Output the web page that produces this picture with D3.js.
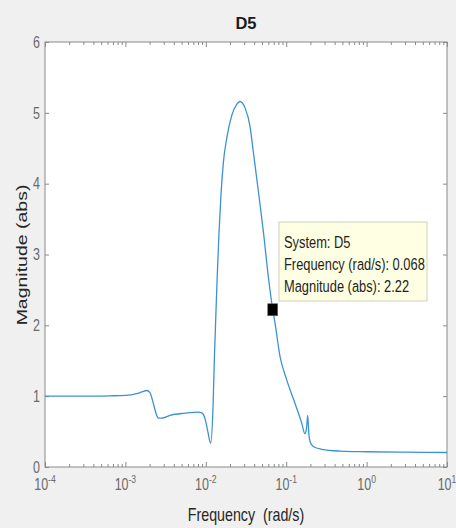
<!DOCTYPE html>
<html>
<head>
<meta charset="utf-8">
<script src="https://cdn.jsdelivr.net/npm/d3@7/dist/d3.min.js"></script>
<style>
  body { margin: 0; background: #f0f0f0; }
  svg { display: block; }
  text { font-family: "Liberation Sans", Arial, Helvetica, sans-serif; }
</style>
</head>
<body>
<svg id="chart" width="456" height="528"></svg>
<script>
// Frequency response of system D5 (magnitude, linear units)
const frequency = [
  1e-4, 2.7e-4, 6.4e-4, 1.0e-3, 1.38e-3, 1.61e-3, 1.84e-3, 2.02e-3, 2.2e-3, 2.4e-3,
  2.56e-3, 2.85e-3, 3.6e-3, 5.5e-3, 8.0e-3, 9.0e-3, 9.8e-3, 0.0106, 0.0115, 0.0123,
  0.0128, 0.01339, 0.0139, 0.01459, 0.01546, 0.01651, 0.0182, 0.0210, 0.02422, 0.0266,
  0.03074, 0.03548, 0.03897, 0.04498, 0.05191, 0.0599, 0.068, 0.0726, 0.0838, 0.1015,
  0.1285, 0.156, 0.171, 0.179, 0.185, 0.192, 0.198, 0.217, 0.276, 0.467,
  1.0, 2.6, 10
];
const magnitude = [
  1.00, 1.00, 1.005, 1.01, 1.035, 1.06, 1.08, 1.05, 0.92, 0.76,
  0.69, 0.69, 0.73, 0.76, 0.775, 0.76, 0.68, 0.50, 0.335, 0.85,
  1.55, 2.2, 2.72, 3.3, 3.85, 4.29, 4.64, 4.96, 5.12, 5.16,
  5.07, 4.81, 4.45, 3.90, 3.33, 2.69, 2.22, 2.03, 1.56, 1.23,
  0.90, 0.62, 0.47, 0.55, 0.73, 0.45, 0.36, 0.29, 0.25, 0.225,
  0.215, 0.21, 0.205
];
const magnitudeTicks = [0, 1, 2, 3, 4, 5, 6];
const decadeTicks = [1e-4, 1e-3, 1e-2, 1e-1, 1e0, 1e1];
const systemName = "D5";
const cursorFrequency = 0.068;
const cursorMagnitude = 2.22;

const svg = d3.select("#chart");
const W = 456, H = 528;
const plot = { left: 45, right: 447, top: 42, bottom: 467 };
const squeeze = 0.78;

svg.append("rect").attr("width", W).attr("height", H).attr("fill", "#f0f0f0");

const x = d3.scaleLog().domain([1e-4, 1e1]).range([plot.left, plot.right]);
const y = d3.scaleLinear().domain([0, 6]).range([plot.bottom, plot.top]);

// plot area
svg.append("rect")
  .attr("x", plot.left).attr("y", plot.top)
  .attr("width", plot.right - plot.left).attr("height", plot.bottom - plot.top)
  .attr("fill", "#ffffff");

const minorTicks = [];
decadeTicks.slice(0, -1).forEach(d => { for (let k = 2; k <= 9; k++) minorTicks.push(d * k); });

const tickColor = "#8a8a8a";
function styleAxis(g) {
  g.select(".domain").remove();
  g.selectAll("line").attr("stroke", tickColor);
  g.selectAll("text").remove();
}

// x ticks, bottom and top, pointing inward
svg.append("g").attr("transform", `translate(0,${plot.bottom})`)
  .call(d3.axisBottom(x).tickValues(decadeTicks).tickSizeInner(-5).tickSizeOuter(0)).call(styleAxis);
svg.append("g").attr("transform", `translate(0,${plot.bottom})`)
  .call(d3.axisBottom(x).tickValues(minorTicks).tickSizeInner(-3).tickSizeOuter(0)).call(styleAxis);
svg.append("g").attr("transform", `translate(0,${plot.top})`)
  .call(d3.axisTop(x).tickValues(decadeTicks).tickSizeInner(-5).tickSizeOuter(0)).call(styleAxis);
svg.append("g").attr("transform", `translate(0,${plot.top})`)
  .call(d3.axisTop(x).tickValues(minorTicks).tickSizeInner(-3).tickSizeOuter(0)).call(styleAxis);

// y ticks, left and right, pointing inward
svg.append("g").attr("transform", `translate(${plot.left},0)`)
  .call(d3.axisLeft(y).tickValues(magnitudeTicks).tickSizeInner(-4).tickSizeOuter(0)).call(styleAxis);
svg.append("g").attr("transform", `translate(${plot.right},0)`)
  .call(d3.axisRight(y).tickValues(magnitudeTicks).tickSizeInner(-4).tickSizeOuter(0)).call(styleAxis);

// box
svg.append("rect")
  .attr("x", plot.left).attr("y", plot.top)
  .attr("width", plot.right - plot.left).attr("height", plot.bottom - plot.top)
  .attr("fill", "none").attr("stroke", tickColor).attr("stroke-width", 1);

// y tick labels
const labelColor = "#6a6a6a";
svg.append("g").selectAll("text").data(magnitudeTicks).join("text")
  .attr("transform", d => `translate(${plot.left - 5},${y(d)}) scale(${squeeze},1)`)
  .attr("text-anchor", "end").attr("dy", "0.36em")
  .attr("font-size", 16).attr("fill", labelColor)
  .text(d => d);

// x tick labels with exponents
const xl = svg.append("g").selectAll("text").data(decadeTicks).join("text")
  .attr("transform", d => `translate(${x(d)},490) scale(${squeeze},1)`)
  .attr("text-anchor", "middle")
  .attr("font-size", 16).attr("fill", labelColor);
xl.append("tspan").text("10");
xl.append("tspan").attr("dy", -7).attr("font-size", 11)
  .text(d => Math.round(Math.log10(d)));

// response curve
const pts = frequency.map((f, i) => [f, magnitude[i]]);
svg.append("defs").append("clipPath").attr("id", "plotClip")
  .append("rect").attr("x", plot.left).attr("y", plot.top)
  .attr("width", plot.right - plot.left).attr("height", plot.bottom - plot.top);
svg.append("path")
  .datum(pts)
  .attr("clip-path", "url(#plotClip)")
  .attr("fill", "none").attr("stroke", "#3a92d4").attr("stroke-width", 1.3)
  .attr("d", d3.line().x(d => x(d[0])).y(d => y(d[1])).curve(d3.curveMonotoneX));

// data cursor
const cx = x(cursorFrequency), cy = y(cursorMagnitude);
svg.append("rect")
  .attr("x", cx - 5).attr("y", cy - 6).attr("width", 10).attr("height", 12)
  .attr("fill", "#000").attr("stroke", "#6b6b55").attr("stroke-width", 0.6);

const tip = svg.append("g").attr("transform", "translate(279,222)");
tip.append("rect").attr("width", 148).attr("height", 79)
  .attr("fill", "#ffffe3").attr("stroke", "#cfcfbf").attr("stroke-width", 1);
const tipLines = [
  `System: ${systemName}`,
  `Frequency (rad/s): ${cursorFrequency}`,
  `Magnitude (abs): ${cursorMagnitude}`
];
tip.selectAll("text").data(tipLines).join("text")
  .attr("transform", (d, i) => `translate(5,${26 + i * 22}) scale(${squeeze},1)`)
  .attr("font-size", 16.5).attr("fill", "#1e1e1e")
  .text(d => d);

// title and axis labels
svg.append("text")
  .attr("x", 246).attr("y", 29).attr("text-anchor", "middle")
  .attr("font-size", 16.5).attr("font-weight", "bold").attr("fill", "#1a1a1a")
  .text(systemName);

svg.append("text")
  .attr("transform", `translate(246,521) scale(0.75,1)`)
  .attr("text-anchor", "middle")
  .attr("font-size", 19).attr("fill", "#262626")
  .text("Frequency\u00a0 (rad/s)");

svg.append("text")
  .attr("transform", `translate(27,255) scale(${squeeze},1) rotate(-90)`)
  .attr("text-anchor", "middle")
  .attr("font-size", 19.5).attr("fill", "#262626")
  .text("Magnitude (abs)");
</script>
</body>
</html>
